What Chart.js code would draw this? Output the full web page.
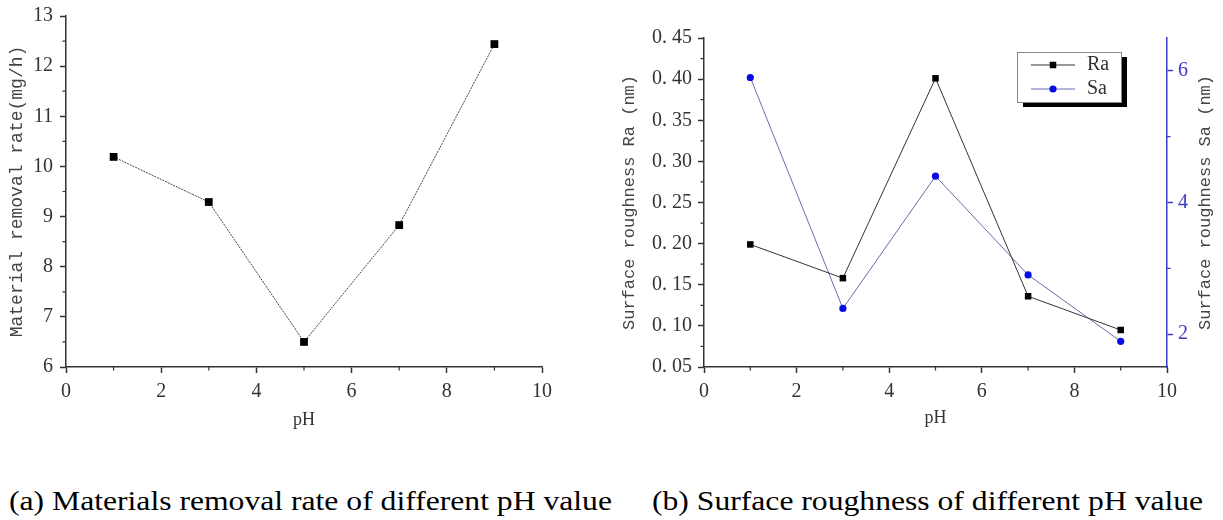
<!DOCTYPE html>
<html>
<head>
<meta charset="utf-8">
<script src="https://cdn.jsdelivr.net/npm/chart.js@4.4.1/dist/chart.umd.min.js"></script>
<style>
  html, body { margin: 0; padding: 0; background: #fff; }
  #wrap { position: relative; width: 1223px; height: 520px; overflow: hidden; }
  canvas { position: absolute; top: 0; }
  #rateChart { left: 0; }
  #roughChart { left: 590px; }
  .caption {
    position: absolute; top: 487px;
    font-family: "Liberation Serif", "Times New Roman", serif;
    font-size: 28px; line-height: 28px; color: #000; white-space: nowrap;
    transform-origin: left top; transform: scaleX(1.13);
  }
</style>
</head>
<body>
<div id="wrap">
  <canvas id="rateChart" width="580" height="440"></canvas>
  <canvas id="roughChart" width="633" height="440"></canvas>
  <div class="caption" style="left:9px">(a) Materials removal rate of different pH value</div>
  <div class="caption" style="left:652px">(b) Surface roughness of different pH value</div>
</div>
<script>
// values
const phValues = [1, 3, 5, 7, 9];
const removalRate = [10.19, 9.29, 6.5, 8.83, 12.44];
const raValues = [0.199, 0.158, 0.401, 0.136, 0.095];
const saValues = [5.9, 2.39, 4.4, 2.9, 1.89];
const saTicks = [2, 4, 6];

const rateTitle = "Material removal rate(mg/h)";
const raTitle = "Surface roughness Ra (nm)";
const saTitle = "Surface roughness Sa (nm)";

const serif = '"Liberation Serif", "Times New Roman", serif';
const mono = '"Liberation Mono", monospace';
const dark = "#333";
const blue = "#3a3ac4";

function pts(ys) {
  return phValues.map((p, i) => ({ x: p, y: ys[i] }));
}

// short unlabeled ticks half way between the labeled ones
const minorTicks = {
  id: "minorTicks",
  afterDraw(chart) {
    const ctx = chart.ctx;
    Object.values(chart.scales).forEach((scale) => {
      const t = scale.ticks;
      ctx.save();
      ctx.strokeStyle = scale.options.border.color;
      ctx.lineWidth = 1.2;
      ctx.beginPath();
      for (let i = 0; i < t.length - 1; i++) {
        const p = scale.getPixelForValue((t[i].value + t[i + 1].value) / 2);
        if (scale.isHorizontal()) {
          ctx.moveTo(p, scale.top);
          ctx.lineTo(p, scale.top + 3.5);
        } else if (scale.position === "left") {
          ctx.moveTo(scale.right, p);
          ctx.lineTo(scale.right - 3.5, p);
        } else {
          ctx.moveTo(scale.left, p);
          ctx.lineTo(scale.left + 3.5, p);
        }
      }
      ctx.stroke();
      ctx.restore();
    });
  },
};

// legend box with a drop shadow, like the Origin one
const boxLegend = {
  id: "boxLegend",
  afterDraw(chart) {
    const { ctx, chartArea } = chart;
    const x = chartArea.right - 150;
    const y = chartArea.top + 14;
    const w = 104;
    const h = 50;
    ctx.save();
    ctx.fillStyle = "#000";
    ctx.fillRect(x + 6, y + 5, w, h);
    ctx.fillStyle = "#fff";
    ctx.fillRect(x, y, w, h);
    ctx.strokeStyle = "#888";
    ctx.lineWidth = 1;
    ctx.strokeRect(x + 0.5, y + 0.5, w, h);
    chart.data.datasets.forEach((ds, i) => {
      const cy = y + 13 + i * 24;
      ctx.strokeStyle = ds.borderColor;
      ctx.lineWidth = 1;
      ctx.beginPath();
      ctx.moveTo(x + 14, cy);
      ctx.lineTo(x + 58, cy);
      ctx.stroke();
      ctx.fillStyle = ds.pointBackgroundColor;
      Chart.helpers.drawPoint(ctx, { pointStyle: ds.pointStyle, radius: ds.pointRadius, borderWidth: 0, rotation: 0 }, x + 36, cy);
      ctx.fillStyle = dark;
      ctx.font = "20px " + serif;
      ctx.textBaseline = "middle";
      ctx.textAlign = "left";
      ctx.fillText(ds.label, x + 70, cy);
    });
    ctx.restore();
  },
};

// right axis title reads bottom-to-top in the original
const rightTitle = {
  id: "rightTitle",
  afterDraw(chart) {
    const s = chart.scales.y2;
    const ctx = chart.ctx;
    ctx.save();
    ctx.translate(s.right - 18, (s.top + s.bottom) / 2);
    ctx.rotate(-Math.PI / 2);
    ctx.font = "17px " + mono;
    ctx.fillStyle = "#444";
    ctx.textAlign = "center";
    ctx.textBaseline = "middle";
    ctx.fillText(saTitle, 0, 0);
    ctx.restore();
  },
};

function xAxis(titlePad) {
  return {
    type: "linear",
    min: 0,
    max: 10,
    ticks: { stepSize: 2, color: dark, font: { family: serif, size: 20 }, padding: 7 },
    grid: { drawOnChartArea: false, tickLength: 6, tickColor: dark, tickWidth: 1.5 },
    border: { color: dark, width: 1.5 },
    title: { display: true, text: "pH", color: dark, font: { family: serif, size: 18 }, padding: { top: 0, bottom: titlePad } },
    afterFit(s) {
      s.height = 73;
      s.paddingLeft = 0;
      s.paddingRight = 0;
    },
  };
}

new Chart(document.getElementById("rateChart"), {
  type: "line",
  data: {
    datasets: [
      {
        label: "MRR",
        data: pts(removalRate),
        borderColor: "#444",
        borderWidth: 1,
        borderDash: [2, 1],
        pointStyle: "rect",
        pointRadius: 5.5,
        pointBackgroundColor: "#000",
        pointBorderWidth: 0,
        tension: 0,
      },
    ],
  },
  options: {
    responsive: false,
    animation: false,
    layout: { padding: { left: 0, right: 38, top: 16, bottom: 0 } },
    plugins: { legend: { display: false }, tooltip: { enabled: false } },
    scales: {
      x: xAxis(9),
      y: {
        min: 6,
        max: 13,
        ticks: { stepSize: 1, color: dark, font: { family: serif, size: 20 }, padding: 7 },
        grid: { drawOnChartArea: false, tickLength: 6, tickColor: dark, tickWidth: 1.5 },
        border: { color: dark, width: 1.5 },
        title: { display: true, text: rateTitle, color: "#444", font: { family: mono, size: 18 }, padding: { top: 6, bottom: 0 } },
        afterFit(s) {
          s.width = 66;
          s.paddingTop = 0;
          s.paddingBottom = 0;
        },
      },
    },
  },
  plugins: [minorTicks],
});

new Chart(document.getElementById("roughChart"), {
  type: "line",
  data: {
    datasets: [
      {
        label: "Ra",
        data: pts(raValues),
        yAxisID: "y",
        borderColor: "#333",
        borderWidth: 1,
        pointStyle: "rect",
        pointRadius: 4.6,
        pointBackgroundColor: "#000",
        pointBorderWidth: 0,
      },
      {
        label: "Sa",
        data: pts(saValues),
        yAxisID: "y2",
        borderColor: "#6b6bb0",
        borderWidth: 1,
        pointStyle: "circle",
        pointRadius: 3.6,
        pointBackgroundColor: "#0a0ae6",
        pointBorderWidth: 0,
      },
    ],
  },
  options: {
    responsive: false,
    animation: false,
    layout: { padding: { left: 0, right: 0, top: 38, bottom: 0 } },
    plugins: { legend: { display: false }, tooltip: { enabled: false } },
    scales: {
      x: xAxis(11),
      y: {
        position: "left",
        min: 0.05,
        max: 0.45,
        ticks: {
          stepSize: 0.05,
          color: dark,
          font: { family: serif, size: 20 },
          padding: 6,
          callback: (v) => v.toFixed(2).replace(".", ". "),
        },
        grid: { drawOnChartArea: false, tickLength: 6, tickColor: dark, tickWidth: 1.5 },
        border: { color: dark, width: 1.5 },
        title: { display: true, text: raTitle, color: "#444", font: { family: mono, size: 17 }, padding: { top: 29, bottom: 0 } },
        afterFit(s) {
          s.width = 114;
          s.paddingTop = 0;
          s.paddingBottom = 0;
        },
      },
      y2: {
        position: "right",
        min: 1.5,
        max: 6.5,
        afterBuildTicks(s) {
          s.ticks = saTicks.map((v) => ({ value: v }));
        },
        ticks: { color: blue, font: { family: serif, size: 20 }, padding: 5 },
        grid: { drawOnChartArea: false, tickLength: 6, tickColor: blue, tickWidth: 1.5 },
        border: { color: blue, width: 1.5 },
        afterFit(s) {
          s.width = 56;
          s.paddingTop = 0;
          s.paddingBottom = 0;
        },
      },
    },
  },
  plugins: [minorTicks, boxLegend, rightTitle],
});
</script>
</body>
</html>
